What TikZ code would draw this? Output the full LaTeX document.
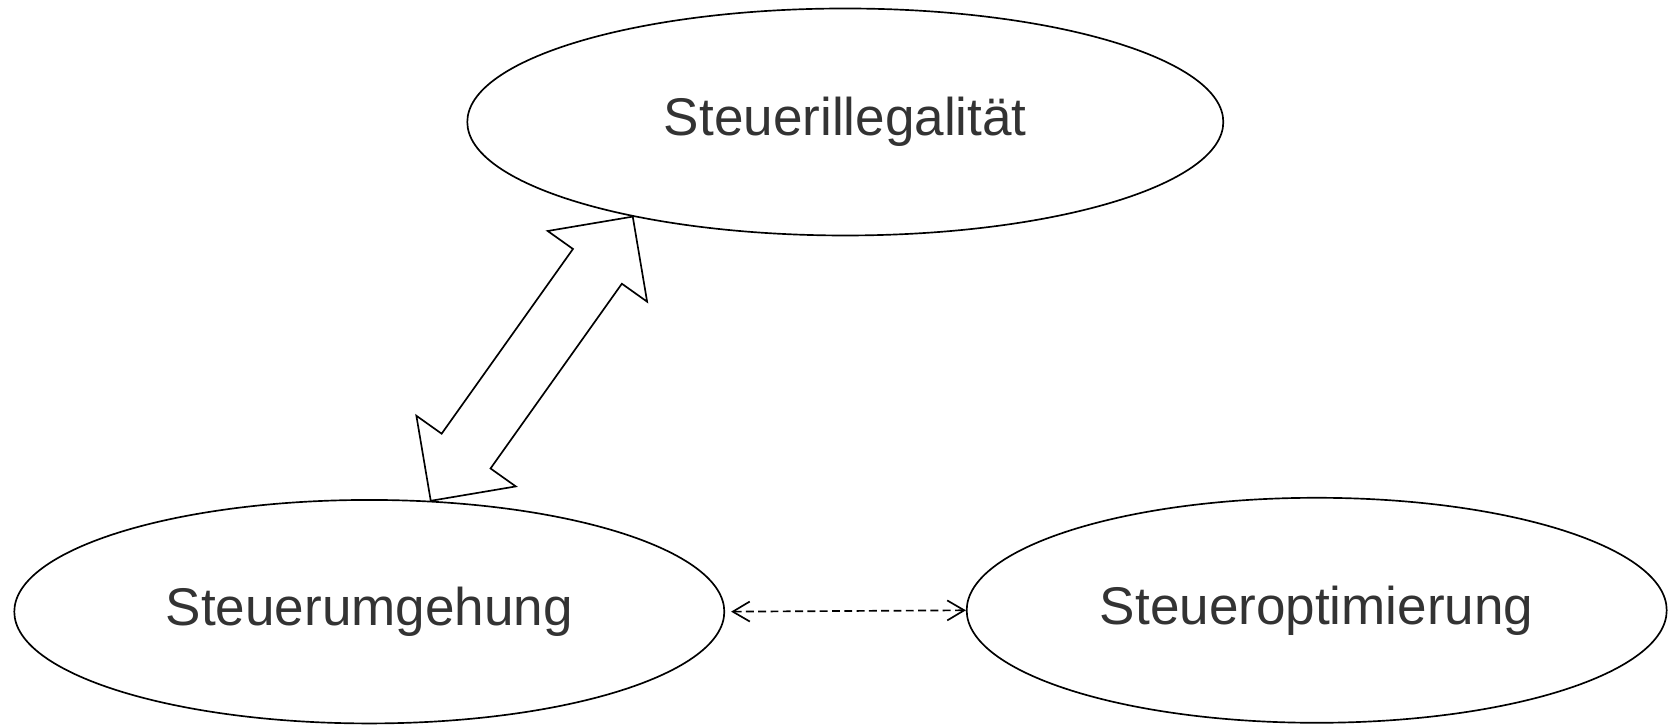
\documentclass[tikz,border=0pt]{standalone}
\usepackage{fontspec}
\setmainfont{Liberation Sans}
\usetikzlibrary{shapes.geometric,calc,arrows.meta}
\definecolor{txtgrey}{RGB}{51,51,51}
\begin{document}
\begin{tikzpicture}[line width=0.95pt,
    term/.style={draw, ellipse, inner sep=0pt, text=txtgrey, font=\fontsize{30.2}{34}\selectfont},
    link/.style={dashed, dash pattern=on 4.5pt off 2.5pt, {Straight Barb[length=3.4mm,width=4mm]}-{Straight Barb[length=3.4mm,width=4mm]}}]
      \useasboundingbox (0, 0) rectangle (33.42, 14.5);

      \node[term, minimum width=15.12cm, minimum height=4.54cm] (ill) at(16.906, 12.06){Steuerillegalität};
      \node[term, minimum width=14.2cm, minimum height=4.47cm] (umg) at(7.386, 2.266){Steuerumgehung};
      \node[term, minimum width=14cm, minimum height=4.5cm] (opt) at(26.334, 2.294){Steueroptimierung};

      \draw[link, shorten <=0.12cm] (umg.east) to (opt.west);

      \coordinate (a) at (umg.61.5);
      \coordinate (b) at (ill.204.4);
      \coordinate (ha) at ($(a)!1.22cm!(b)$);
      \coordinate (hb) at ($(b)!1.22cm!(a)$);
      \draw[fill=white, line join=miter] (b) -- ($(hb)!1.22cm!90:(b)$) -- ($(hb)!0.6cm!90:(b)$)
        -- ($(ha)!0.6cm!-90:(a)$) -- ($(ha)!1.22cm!-90:(a)$) -- (a)
        -- ($(ha)!1.22cm!90:(a)$) -- ($(ha)!0.6cm!90:(a)$)
        -- ($(hb)!0.6cm!-90:(b)$) -- ($(hb)!1.22cm!-90:(b)$) -- cycle;
    \end{tikzpicture}
\end{document}
